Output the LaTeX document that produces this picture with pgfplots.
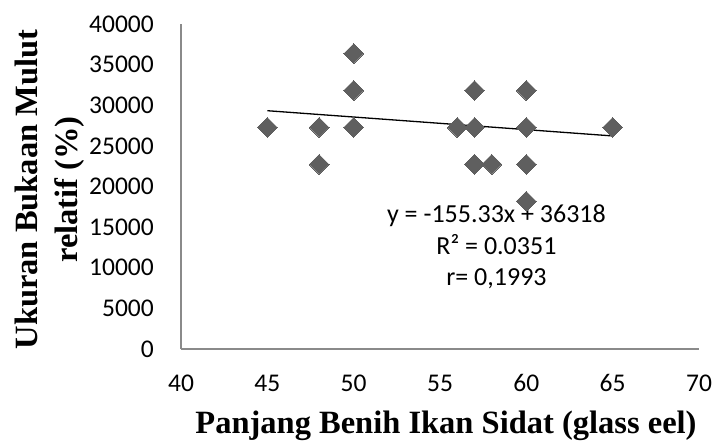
\documentclass[border=0pt]{standalone}
\usepackage{fontspec}
\setmainfont{Carlito}
\newfontfamily\tnr{Liberation Serif}
\usepackage{pgfplots}
\pgfplotsset{compat=1.18}
\definecolor{axgray}{HTML}{8A8A8A}
\definecolor{mk}{HTML}{5F5F5F}
\begin{document}
\begin{tikzpicture}
\begin{axis}[
 scale only axis, width=518pt, height=325pt,
 xmin=40, xmax=70, ymin=0, ymax=40000,
 xtick={40,45,...,70}, ytick={0,5000,...,40000},
 axis x line=bottom, axis y line=left,
 axis line style={-, draw=axgray, line width=1.5pt},
 major tick length=0pt,
 scaled y ticks=false,
 /pgf/number format/assume math mode=true,
 /pgf/number format/1000 sep={},
 tick label style={font=\fontsize{25.5}{30}\selectfont, inner sep=0pt},
 xticklabel style={anchor=base, yshift=-42pt},
 yticklabel style={anchor=east, xshift=-27pt},
 clip=false,
 xlabel={Panjang Benih Ikan Sidat (glass eel)},
 ylabel={Ukuran Bukaan Mulut\\relatif (\%)},
 every axis x label/.style={at={(rel axis cs:0.5,0)}, anchor=base, yshift=-84pt, xshift=6pt, inner sep=0pt, font=\tnr\bfseries\fontsize{32.5}{38}\selectfont},
 every axis y label/.style={at={(rel axis cs:0,0.5)}, xshift=-131pt, yshift=-3pt, rotate=90, anchor=center, align=center, inner sep=0pt, font=\tnr\bfseries\fontsize{32.5}{40}\selectfont},
]
\coordinate (O) at (rel axis cs:0,0);
\addplot[only marks, mark=square*, mark size=7pt, mark options={rotate=45, fill=mk, draw=mk, line width=0pt}] coordinates {
(45,27273)
(48,27273) (48,22727)
(50,36364) (50,31818) (50,27273)
(56,27273)
(57,31818) (57,27273) (57,22727)
(58,22727)
(60,31818) (60,27273) (60,22727) (60,18182)
(65,27273)
};
\addplot[black, line width=1.3pt] coordinates {(45,29328) (65,26222)};
\node[align=center, anchor=center, inner sep=0pt, font=\fontsize{26}{31.5}\selectfont] at (axis cs:58.27,12554) {y = -155.33x + 36318\\R² = 0.0351\\r= 0,1993};
\end{axis}
\pgfresetboundingbox
\path (O) ++(-181pt,-95pt) rectangle ++(714pt,444pt);
\end{tikzpicture}
\end{document}
